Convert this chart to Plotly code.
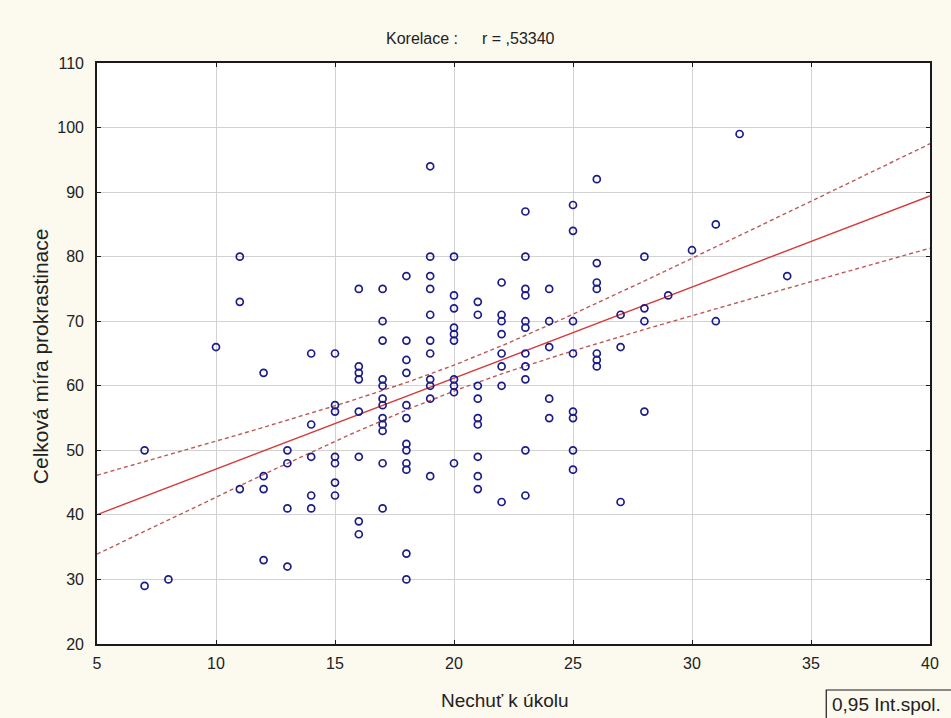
import numpy as np
import plotly.graph_objects as go

# Data: x = "Nechuť k úkolu", y = "Celková míra prokrastinace"
x_vals = [7, 7, 8, 10, 11, 11, 11, 12, 12, 12, 12, 13, 13, 13, 13,
          14, 14, 14, 14, 14,
          15, 15, 15, 15, 15, 15, 15,
          16, 16, 16, 16, 16, 16, 16, 16,
          17, 17, 17, 17, 17, 17, 17, 17, 17, 17, 17, 17,
          18, 18, 18, 18, 18, 18, 18, 18, 18, 18, 18, 18,
          19, 19, 19, 19, 19, 19, 19, 19, 19, 19, 19,
          20, 20, 20, 20, 20, 20, 20, 20, 20, 20,
          21, 21, 21, 21, 21, 21, 21, 21, 21,
          22, 22, 22, 22, 22, 22, 22, 22,
          23, 23, 23, 23, 23, 23, 23, 23, 23, 23, 23,
          24, 24, 24, 24, 24,
          25, 25, 25, 25, 25, 25, 25, 25,
          26, 26, 26, 26, 26, 26, 26,
          27, 27, 27,
          28, 28, 28, 28,
          29, 30, 31, 31, 32, 34]
y_vals = [50, 29, 30, 66, 80, 73, 44, 62, 46, 44, 33, 50, 48, 41, 32,
          65, 54, 49, 43, 41,
          65, 57, 56, 49, 48, 45, 43,
          75, 63, 62, 61, 56, 49, 39, 37,
          75, 70, 67, 61, 60, 58, 57, 55, 54, 53, 48, 41,
          77, 67, 64, 62, 57, 55, 51, 50, 48, 47, 34, 30,
          94, 80, 77, 75, 71, 67, 65, 61, 60, 58, 46,
          80, 74, 72, 69, 68, 67, 61, 60, 59, 48,
          73, 71, 60, 58, 55, 54, 49, 46, 44,
          76, 71, 70, 68, 65, 63, 60, 42,
          87, 80, 75, 74, 70, 69, 65, 63, 61, 50, 43,
          75, 70, 66, 58, 55,
          88, 84, 70, 65, 56, 55, 50, 47,
          92, 79, 76, 75, 65, 64, 63,
          71, 66, 42,
          80, 72, 70, 56,
          74, 81, 85, 70, 99, 77]

x_ticks = [5, 10, 15, 20, 25, 30, 35, 40]
y_ticks = [20, 30, 40, 50, 60, 70, 80, 90, 100, 110]

title_left = "Korelace :"
title_right = "r = ,53340"
x_title = "Nechuť k úkolu"
y_title = "Celková míra prokrastinace"
legend_text = "0,95 Int.spol."

# regression and 95% confidence band of the mean
x = np.array(x_vals, float)
y = np.array(y_vals, float)
n = len(x)
b, a = np.polyfit(x, y, 1)
resid = y - (a + b * x)
s = np.sqrt(np.sum(resid ** 2) / (n - 2))
xbar = x.mean()
sxx = np.sum((x - xbar) ** 2)
t = 1.977
xl = np.linspace(5, 40, 200)
yl = a + b * xl
half = t * s * np.sqrt(1 / n + (xl - xbar) ** 2 / sxx)

RED = "#d63a3a"
DASH = "#bd5a5a"
NAVY = "#1c1c88"
FONT = "Liberation Sans, Arial"

fig = go.Figure()
fig.add_trace(go.Scatter(x=xl, y=yl + half, mode="lines",
                         line=dict(color=DASH, width=1.4, dash="4px,3px")))
fig.add_trace(go.Scatter(x=xl, y=yl - half, mode="lines",
                         line=dict(color=DASH, width=1.4, dash="4px,3px")))
fig.add_trace(go.Scatter(x=xl, y=yl, mode="lines",
                         line=dict(color=RED, width=1.4)))
fig.add_trace(go.Scatter(x=x_vals, y=y_vals, mode="markers",
                         marker=dict(symbol="circle-open", size=7, color=NAVY,
                                     line=dict(width=1.7, color=NAVY))))

axis_common = dict(showline=True, linecolor="#1a1a1a", linewidth=1.6, mirror="ticks",
                   ticks="inside", ticklen=4, tickcolor="#1a1a1a", tickwidth=1.2,
                   showgrid=True, gridcolor="#d2d2d2", gridwidth=1, zeroline=False,
                   tickfont=dict(family=FONT, size=16, color="#222"))
fig.update_xaxes(range=[5, 40], tickvals=x_ticks, ticklabelstandoff=4, **axis_common)
fig.update_yaxes(range=[20, 110], tickvals=y_ticks, ticklabelstandoff=8, **axis_common)

L, R, T, B = 97, 19, 63, 74
PW, PH = 951 - L - R, 718 - T - B


def px(xpix):
    return (xpix - L) / PW


def py(ypix):
    return (718 - B - ypix) / PH


fig.update_layout(
    width=951, height=718,
    margin=dict(l=L, r=R, t=T, b=B),
    paper_bgcolor="#fcf9ee", plot_bgcolor="white",
    showlegend=False,
    font=dict(family=FONT, color="#222"),
    shapes=[
        dict(type="rect", xref="paper", yref="paper",
             x0=px(828), x1=px(960), y0=py(690), y1=py(730),
             line=dict(color="#1a1a1a", width=1.2), fillcolor="rgba(0,0,0,0)"),
    ],
    annotations=[
        dict(text=title_left, xref="paper", yref="paper", x=px(385), y=py(38),
             showarrow=False, font=dict(size=16), xanchor="left", yanchor="middle"),
        dict(text=title_right, xref="paper", yref="paper", x=px(481), y=py(38),
             showarrow=False, font=dict(size=16), xanchor="left", yanchor="middle"),
        dict(text=x_title, xref="paper", yref="paper", x=px(440), y=py(700),
             showarrow=False, font=dict(size=19), xanchor="left", yanchor="middle"),
        dict(text=y_title, xref="paper", yref="paper", x=px(40), y=py(356),
             showarrow=False, font=dict(size=21), textangle=-90,
             xanchor="center", yanchor="middle"),
        dict(text=legend_text, xref="paper", yref="paper", x=px(832), y=py(704),
             showarrow=False, font=dict(size=19), xanchor="left", yanchor="middle"),
    ],
)

fig.write_html("out.html",
               config={"displayModeBar": False},
               post_script="document.body.style.margin='0';document.body.style.overflow='hidden';")
